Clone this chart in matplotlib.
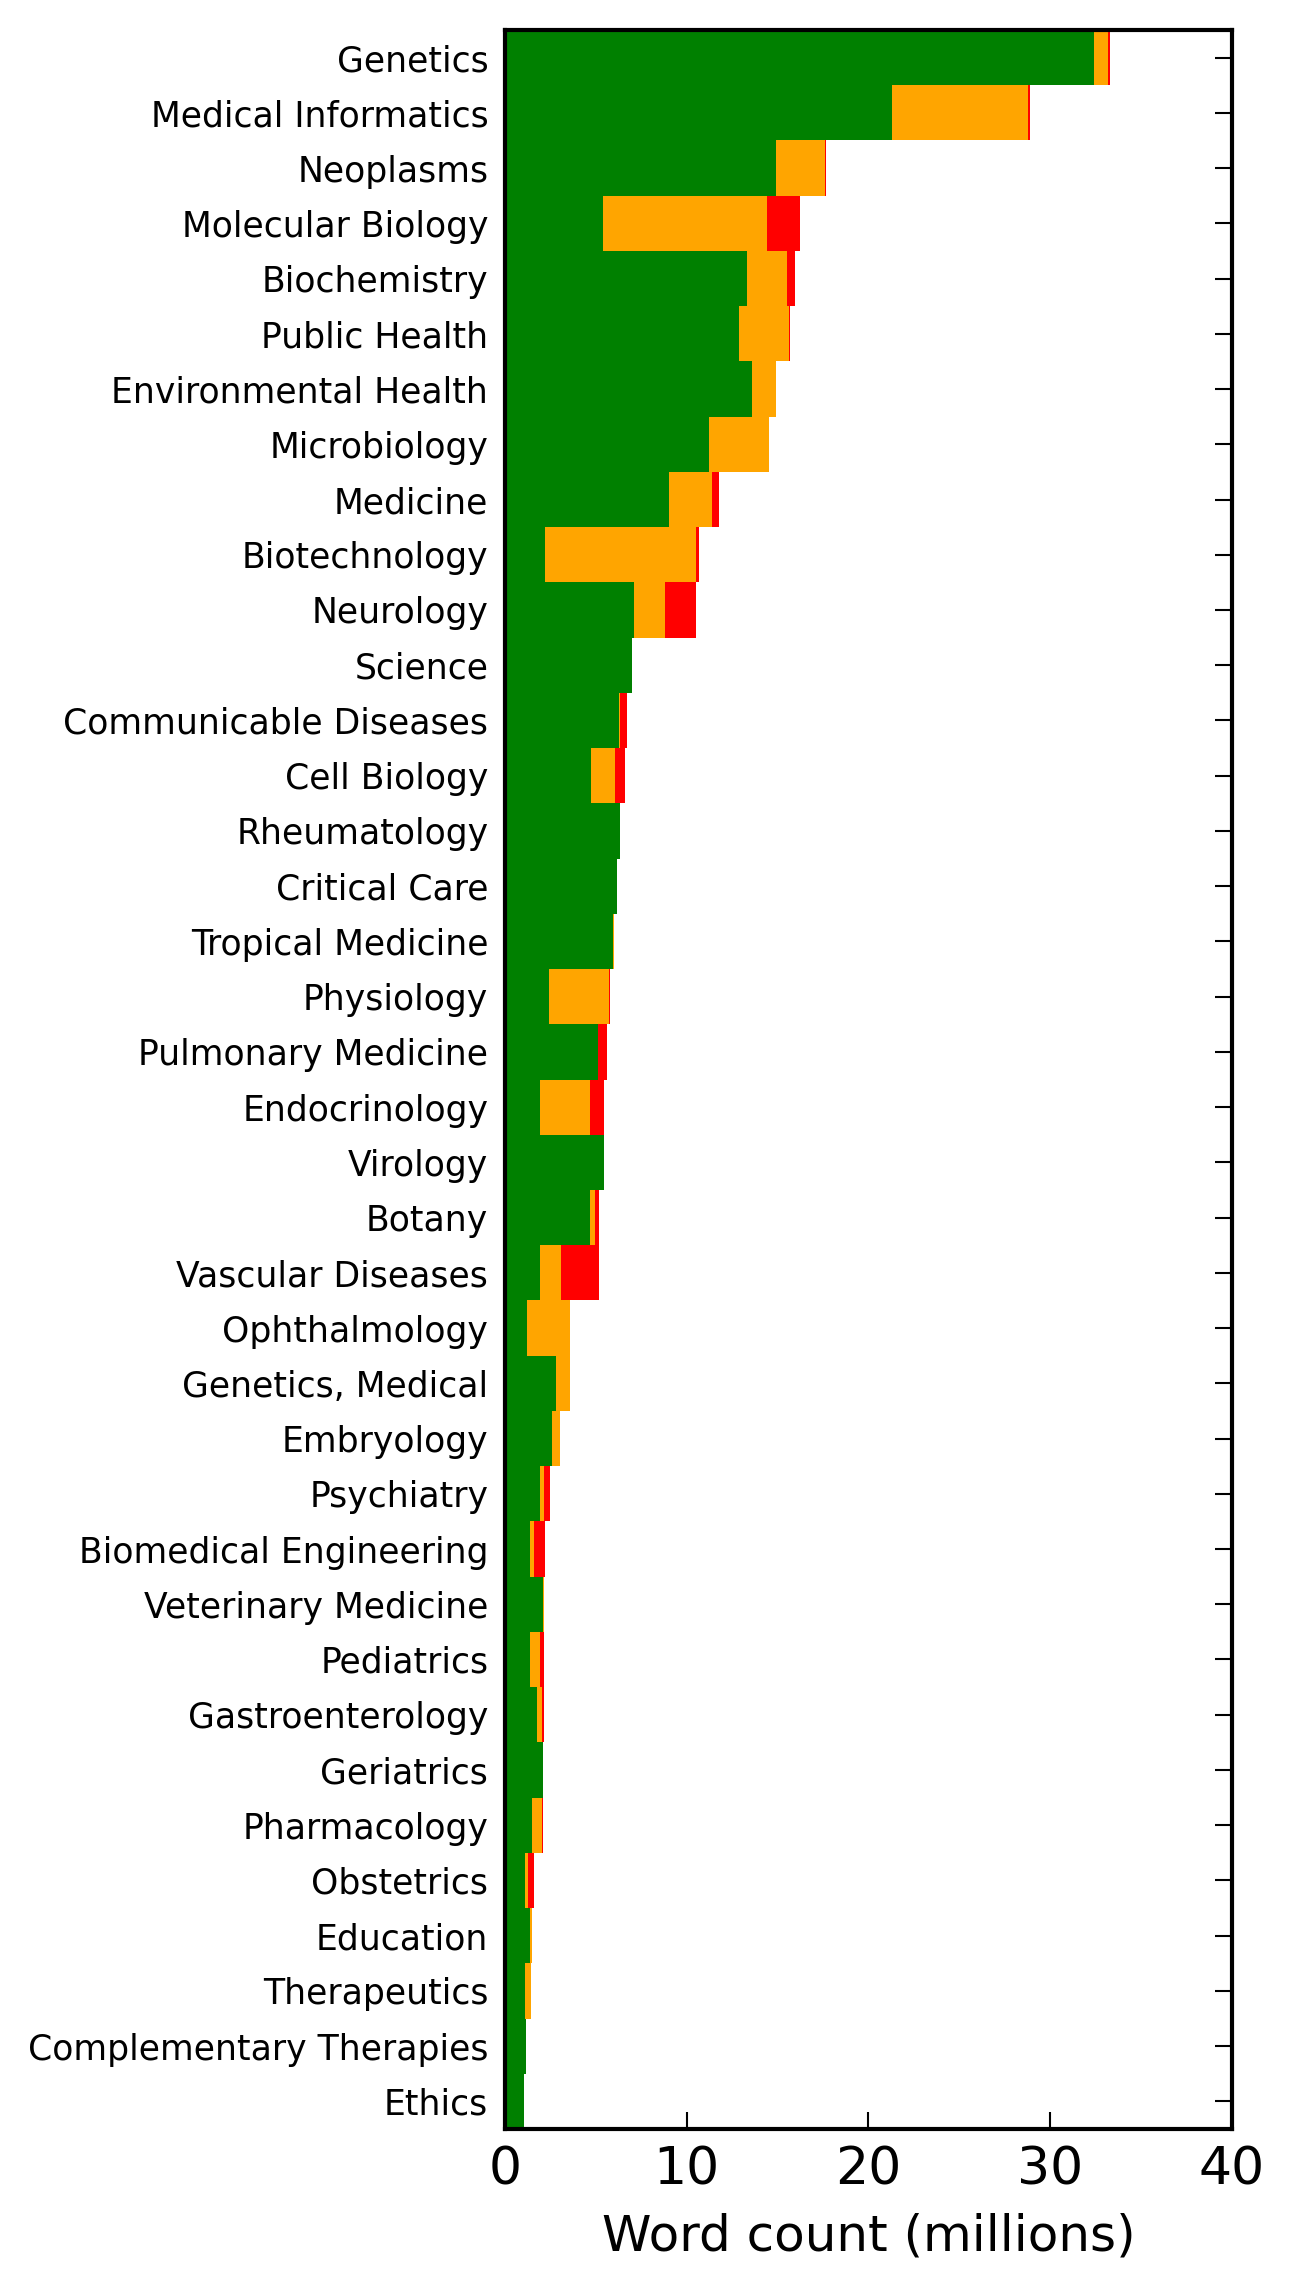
import matplotlib
matplotlib.use('Agg')
import matplotlib.pyplot as plt
import numpy as np

# categories, top to bottom
CATEGORIES = [
    'Genetics', 'Medical Informatics', 'Neoplasms', 'Molecular Biology',
    'Biochemistry', 'Public Health', 'Environmental Health', 'Microbiology',
    'Medicine', 'Biotechnology', 'Neurology', 'Science',
    'Communicable Diseases', 'Cell Biology', 'Rheumatology', 'Critical Care',
    'Tropical Medicine', 'Physiology', 'Pulmonary Medicine', 'Endocrinology',
    'Virology', 'Botany', 'Vascular Diseases', 'Ophthalmology',
    'Genetics, Medical', 'Embryology', 'Psychiatry', 'Biomedical Engineering',
    'Veterinary Medicine', 'Pediatrics', 'Gastroenterology', 'Geriatrics',
    'Pharmacology', 'Obstetrics', 'Education', 'Therapeutics',
    'Complementary Therapies', 'Ethics',
]

# word counts (millions) per segment
GREEN = [32.4, 21.3, 14.9, 5.4, 13.3, 12.9, 13.6, 11.2, 9.0, 2.2,
         7.1, 7.0, 6.25, 4.75, 6.35, 6.15, 5.93, 2.4, 5.1, 1.9,
         5.44, 4.7, 1.95, 1.2, 2.8, 2.6, 1.95, 1.4, 2.07, 1.4,
         1.76, 2.09, 1.48, 1.1, 1.37, 1.1, 1.15, 1.04]
ORANGE = [0.8, 7.5, 2.7, 9.0, 2.2, 2.75, 1.3, 3.3, 2.4, 8.3,
          1.7, 0.0, 0.06, 1.3, 0.0, 0.0, 0.06, 3.3, 0.0, 2.75,
          0.0, 0.27, 1.15, 2.4, 0.75, 0.4, 0.22, 0.18, 0.05, 0.5,
          0.27, 0.0, 0.55, 0.16, 0.1, 0.33, 0.0, 0.0]
RED = [0.1, 0.1, 0.05, 1.85, 0.45, 0.05, 0.0, 0.0, 0.4, 0.15,
       1.7, 0.0, 0.4, 0.55, 0.0, 0.0, 0.0, 0.05, 0.5, 0.8,
       0.0, 0.22, 2.05, 0.0, 0.0, 0.0, 0.28, 0.6, 0.0, 0.25,
       0.1, 0.0, 0.05, 0.33, 0.0, 0.0, 0.0, 0.0]

XTICKS = [0, 10, 20, 30, 40]

fig = plt.figure(figsize=(4.3, 2279 / 300), dpi=300)
ax = fig.add_axes([505 / 1290, 150 / 2279, 727 / 1290, 2099 / 2279])

y = np.arange(len(CATEGORIES))
green = np.array(GREEN)
orange = np.array(ORANGE)
red = np.array(RED)

ax.barh(y, green, height=1.0, color='green', linewidth=0)
ax.barh(y, orange, height=1.0, left=green, color='orange', linewidth=0)
ax.barh(y, red, height=1.0, left=green + orange, color='red', linewidth=0)

ax.set_xlim(0, 40)
ax.set_ylim(len(CATEGORIES) - 0.5, -0.5)
ax.set_xticks(XTICKS)
ax.set_yticks(y)
ax.set_yticklabels(CATEGORIES, fontsize=8.3)
ax.tick_params(axis='x', labelsize=12.5, direction='in', top=False,
               length=4, width=0.5, pad=4)
ax.tick_params(axis='y', direction='in', left=False, right=True,
               length=4, width=0.5, pad=4)
ax.set_xlabel('Word count (millions)', fontsize=12, labelpad=4)

for spine in ax.spines.values():
    spine.set_linewidth(1.0)
    spine.set_color('black')

fig.savefig('out.png', dpi=300)
